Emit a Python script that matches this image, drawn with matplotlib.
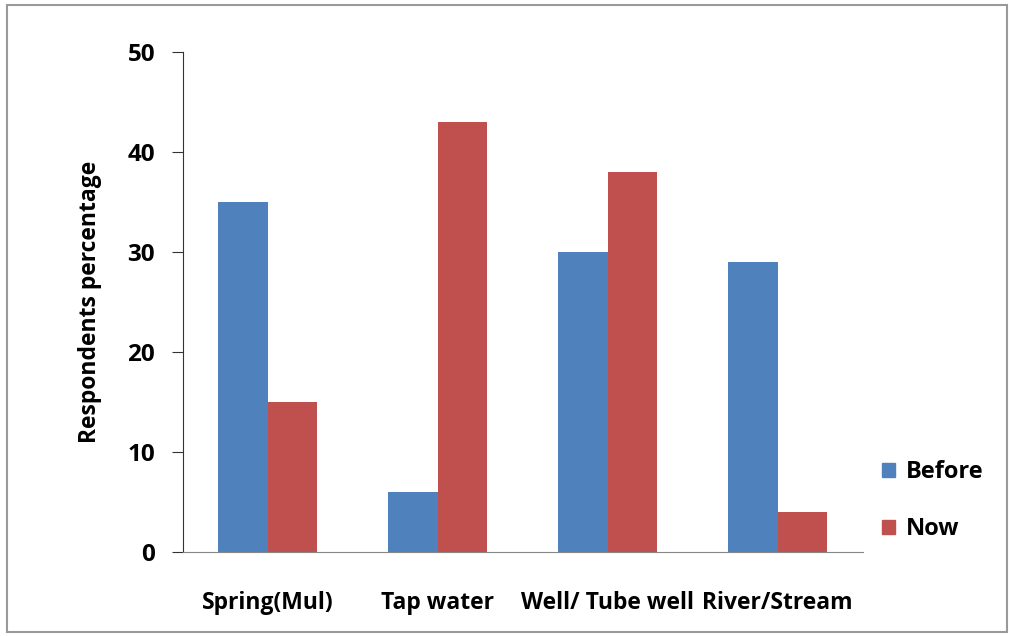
import numpy as np
import matplotlib.pyplot as plt
from matplotlib.patches import Rectangle, Patch

categories = ['Spring(Mul)', 'Tap water', 'Well/ Tube well', 'River/Stream']
before = [35, 6, 30, 29]
now = [15, 43, 38, 4]

plt.rcParams['font.family'] = ['Open Sans', 'DejaVu Sans']
plt.rcParams['font.weight'] = 'bold'

fig = plt.figure(figsize=(10.1, 6.36), dpi=100)
ax = fig.add_axes([0.181, 0.132, 0.673, 0.786])

x = np.arange(len(categories))
w = 0.29
ax.bar(x - w / 2, before, w, color='#4F81BD', label='Before')
ax.bar(x + w / 2, now, w, color='#C0504D', label='Now')

ax.set_xlim(-0.5, 3.5)
ax.set_ylim(0, 50)
ax.set_yticks([0, 10, 20, 30, 40, 50])
ax.set_xticks(x)
ax.set_xticklabels(categories, fontsize=16.5, fontweight='bold')
ax.tick_params(axis='x', length=0, pad=28)
ax.tick_params(axis='y', labelsize=17.5, length=8, pad=12, color='#333333')
for lab in ax.get_yticklabels():
    lab.set_fontweight('bold')
ax.set_ylabel('Respondents percentage', fontsize=16.5, fontweight='bold', labelpad=18)

ax.spines['top'].set_visible(False)
ax.spines['right'].set_visible(False)
ax.spines['left'].set_color('#333333')
ax.spines['bottom'].set_color('#888888')

handles = [Patch(color='#4F81BD'), Patch(color='#C0504D')]
fig.legend(handles, ['Before', 'Now'], loc='center left', bbox_to_anchor=(0.852, 0.213),
           frameon=False, handlelength=0.55, handleheight=0.55,
           handletextpad=0.45, labelspacing=1.4, prop={'weight': 'bold', 'size': 17})

fig.patches.append(Rectangle((0.007, 0.006), 0.99, 0.986, transform=fig.transFigure,
                             fill=False, edgecolor='#999999', linewidth=1.5))

fig.savefig('out.png', dpi=100)
